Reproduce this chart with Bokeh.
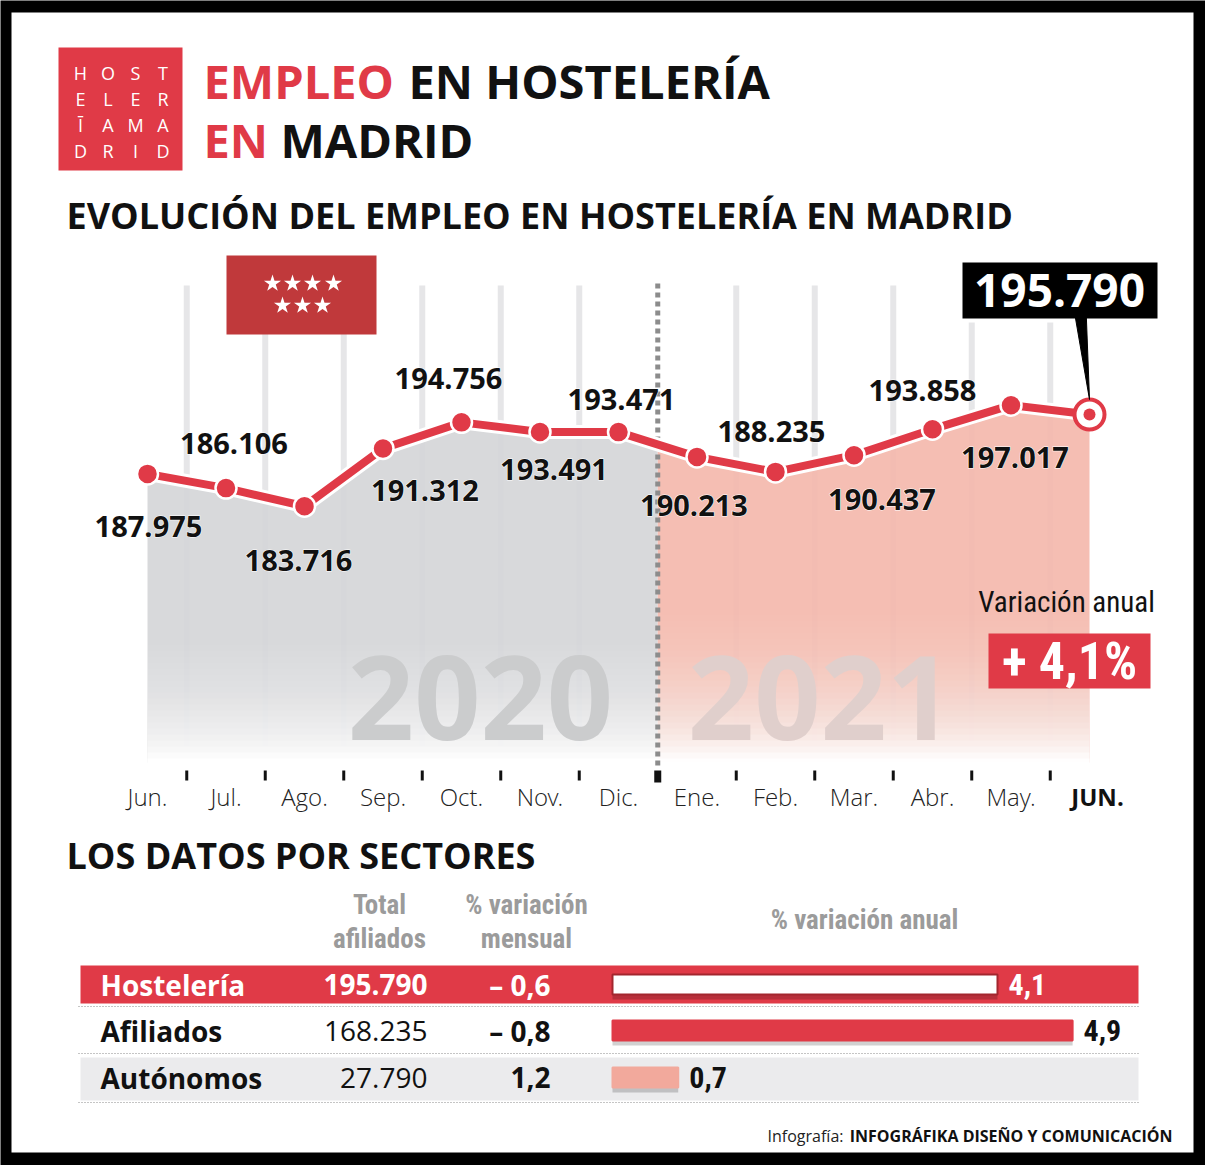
import numpy as np
from bokeh.plotting import figure
from bokeh.models import Range1d, ColumnDataSource
from bokeh.core.properties import value
from bokeh.embed import file_html
from bokeh.resources import INLINE

# ---------------- data ----------------
months = ["Jun.", "Jul.", "Ago.", "Sep.", "Oct.", "Nov.", "Dic.",
          "Ene.", "Feb.", "Mar.", "Abr.", "May.", "JUN."]
empleo = [187975, 186106, 183716, 191312, 194756, 193491, 193471,
          190213, 188235, 190437, 193858, 197017, 195790]
years = ["2020", "2021"]
year_split = 6.5          # boundary between Dic. and Ene.
variacion_anual_total = 4.1

sectores = ["Hostelería", "Afiliados", "Autónomos"]
total_afiliados = [195790, 168235, 27790]
var_mensual = [-0.6, -0.8, 1.2]
var_anual = [4.1, 4.9, 0.7]

def fmt_int(v):
    return f"{v:,}".replace(",", ".")

def fmt_dec(v):
    s = f"{abs(v):.1f}".replace(".", ",")
    return ("– " + s) if v < 0 else s

# ---------------- layout helpers ----------------
W, H = 1205, 1165

def xrange_for(px0, px1, v0, v1, total=W):
    s = (px1 - px0) / (v1 - v0)
    start = v0 - px0 / s
    return Range1d(start, start + total / s)

def yrange_for(py0, py1, v0, v1, total=H):
    s = (py0 - py1) / (v1 - v0)
    end = v0 + py0 / s
    return Range1d(end - total / s, end), (lambda py: end - py / s)

RED = "#e03a47"
PINK = "#f4b8ac"
GREY = "#d5d6d8"
OS = value("Open Sans")
LIGHT = value("'Open Sans Light', 'Open Sans'")
NARROW = value("'Roboto Condensed', Roboto")

p = figure(width=W, height=H, x_range=Range1d(0, W), y_range=Range1d(H, 0),
           output_backend="svg", toolbar_location=None, min_border=0,
           x_axis_type=None, y_axis_type=None,
           background_fill_color="black", border_fill_color="black")
p.grid.visible = False
p.outline_line_color = None

mx = xrange_for(147, 1089, 0, 12)
pct = xrange_for(612, 1081.5, 0, 5)
vy, py_to_val = yrange_for(534, 382, 180000, 200000)
p.extra_x_ranges = {"mx": mx, "pct": pct}
p.extra_y_ranges = {"vy": vy}

def t(x, y, s, size, color="#111111", style="bold", align="left", base="middle", font=OS, **kw):
    p.text(x=[x], y=[y], text=[s], text_color=color, text_font=font, text_font_size=size,
           text_font_style=style, text_align=align, text_baseline=base, **kw)

# white page inside black frame
p.quad(left=11, right=1193, top=12, bottom=1152, fill_color="white", line_color=None)

# ---------------- header ----------------
p.quad(left=58, right=182, top=47, bottom=170, fill_color=RED, line_color=None)
logo = ["HOST", "ELER", "ĪAMA", "DRID"]
lx, ly, lt = [], [], []
for r, row in enumerate(logo):
    for c, ch in enumerate(row):
        lx.append(80 + c * 27.5)
        ly.append(72 + r * 26)
        lt.append(ch)
p.text(x=lx, y=ly, text=lt, text_color="white", text_font=OS, text_font_size="18px",
       text_align="center", text_baseline="middle")

t(203, 80, "EMPLEO", "47px", RED)
t(408, 80, "EN HOSTELERÍA", "47px")
t(203, 139, "EN", "47px", RED)
t(280, 139, "MADRID", "47px")
t(66, 215, "EVOLUCIÓN DEL EMPLEO EN HOSTELERÍA EN MADRID", "36px")

# ---------------- line chart ----------------
idx = list(range(len(months)))
mids = [i + 0.5 for i in range(len(months) - 1) if i + 0.5 != year_split]

p.segment(x0=mids, x1=mids, y0=[285] * len(mids), y1=[762] * len(mids),
          x_range_name="mx", line_color="#e6e6e8", line_width=6)

split_val = float(np.interp(year_split, idx, empleo))
base_val = py_to_val(762)
gx = [i for i in idx if i < year_split] + [year_split]
gy = [v for i, v in zip(idx, empleo) if i < year_split] + [split_val]
rx = [year_split] + [i for i in idx if i > year_split]
ry = [split_val] + [v for i, v in zip(idx, empleo) if i > year_split]
p.varea(x=gx, y1=gy, y2=[base_val] * len(gx), x_range_name="mx", y_range_name="vy",
        fill_color=GREY, fill_alpha=0.92)
p.varea(x=rx, y1=ry, y2=[base_val] * len(rx), x_range_name="mx", y_range_name="vy",
        fill_color=PINK, fill_alpha=0.92)

# fade to white: overlapping layers, cumulative whiteness
f0, f1 = 590.0, 762.0
starts = [f0 + k * 6.0 for k in range(int((f1 - f0) / 6.0) + 1)]
target = [min(1.0, ((s - f0) / (f1 - f0 - 6)) ** 1.6) for s in starts]
fa, prev = [], 0.0
for w in target:
    w = max(w, prev)
    a = 1.0 if prev >= 1.0 else 1.0 - (1.0 - w) / (1.0 - prev)
    fa.append(float(min(1.0, max(0.0, a)) * 0.85))
    prev = w
p.quad(left=[0] * len(starts), right=[12] * len(starts), top=starts,
       bottom=[764.0] * len(starts), x_range_name="mx",
       fill_color="white", fill_alpha=fa, line_color=None)

# year watermarks
p.text(x=[480, 820], y=[697, 697], text=years, text_color=["#cbcccd", "#e0cfcc"],
       text_font=OS, text_font_style="bold", text_font_size="116px",
       text_align="center", text_baseline="middle")

# year separator & ticks
p.segment(x0=[year_split], x1=[year_split], y0=[283], y1=[768], x_range_name="mx",
          line_color="#8c8c8c", line_width=5, line_dash="5 4")
p.segment(x0=mids, x1=mids, y0=[770] * len(mids), y1=[780] * len(mids),
          x_range_name="mx", line_color="#111111", line_width=3)
p.segment(x0=[year_split], x1=[year_split], y0=[770], y1=[782], x_range_name="mx",
          line_color="#111111", line_width=7)

# month labels
p.text(x=idx[:-1], y=[796] * (len(idx) - 1), text=months[:-1], x_range_name="mx",
       text_color="#222222", text_font=LIGHT, text_font_size="24px",
       text_align="center", text_baseline="middle")
p.text(x=[idx[-1]], y=[796], text=[months[-1]], x_range_name="mx", x_offset=8,
       text_color="#111111", text_font=OS, text_font_style="bold", text_font_size="24px",
       text_align="center", text_baseline="middle")

# Madrid flag
p.quad(left=226, right=376, top=255, bottom=334, fill_color="#c0393b", line_color=None)
p.scatter(x=[272, 292, 312, 333, 282, 302, 322], y=[283, 283, 283, 283, 305, 305, 305],
          marker="star", size=18, fill_color="white", line_color=None)

# line
p.line(x=idx, y=empleo, x_range_name="mx", y_range_name="vy",
       line_color="white", line_width=14, line_join="round")
p.line(x=idx, y=empleo, x_range_name="mx", y_range_name="vy",
       line_color=RED, line_width=8, line_join="round")
p.scatter(x=idx[:-1], y=empleo[:-1], x_range_name="mx", y_range_name="vy",
          size=21, fill_color=RED, line_color="white", line_width=2.5)
p.scatter(x=[idx[-1]], y=[empleo[-1]], x_range_name="mx", y_range_name="vy",
          size=30, fill_color="white", line_color=RED, line_width=4)
p.scatter(x=[idx[-1]], y=[empleo[-1]], x_range_name="mx", y_range_name="vy",
          size=12, fill_color=RED, line_color=None)

# callout
p.quad(left=958, right=1161, top=258, bottom=322, fill_color="white", line_color=None)
p.quad(left=962, right=1157, top=262, bottom=318, fill_color="black", line_color=None)
p.patch(x=[11.82, 11.96, 12.0], y=[317, 317, 399], x_range_name="mx",
        fill_color="black", line_color="black", line_width=1)
t(1059, 290, fmt_int(empleo[-1]), "46px", "white", align="center")

p.quad(left=988, right=1150, top=633, bottom=688, fill_color=RED, line_color=None)

# ---------------- table ----------------
t(66, 855, "LOS DATOS POR SECTORES", "36px")

row_y = [984, 1030, 1077]
p.quad(left=80, right=1138, top=965, bottom=1003, fill_color=RED, line_color=None)
p.quad(left=80, right=1138, top=1057, bottom=1100, fill_color="#ebebed", line_color=None)
p.segment(x0=[78] * 3, x1=[1140] * 3, y0=[1006, 1053, 1102], y1=[1006, 1053, 1102],
          line_color="#8a8a8a", line_width=1, line_dash="1 2")

row_col = ["white", "#111111", "#111111"]
p.text(x=[100] * 3, y=row_y, text=sectores, text_color=row_col, text_font=OS,
       text_font_style="bold", text_font_size="28px", text_align="left", text_baseline="middle")
p.text(x=[427] * 3, y=row_y, text=[fmt_int(v) for v in total_afiliados], text_color=row_col,
       text_font=OS, text_font_style=["bold", "normal", "normal"], text_font_size="28px",
       text_align="right", text_baseline="middle")
p.text(x=[550] * 3, y=row_y, text=[fmt_dec(v) for v in var_mensual], text_color=row_col,
       text_font=OS, text_font_style="bold", text_font_size="28px",
       text_align="right", text_baseline="middle")

bt = [y - 10 for y in row_y]
bb = [y + 10 for y in row_y]
p.quad(left=[0] * 3, right=var_anual, top=[y + 4 for y in bt], bottom=[y + 5 for y in bb],
       x_range_name="pct", fill_color="black", fill_alpha=0.18, line_color=None)
p.quad(left=[0] * 3, right=var_anual, top=bt, bottom=bb, x_range_name="pct",
       fill_color=["white", RED, "#f2a99c"], line_color=["#a3262e", RED, "#f2a99c"],
       line_width=2)

# footer
t(1172, 1135, "INFOGRÁFIKA DISEÑO Y COMUNICACIÓN", "16px", "#111111", style="bold",
  align="right")
t(843, 1135, "Infografía:", "16px", "#222222", style="normal", align="right")

# data labels: white halo layer, then black text
lab_dx = [1, 8, -6, 42, -13, 14, 3, -3, -4, 28, -10, 4]
lab_dy = [53, -45, 54, 42, -44, 38, -33, 49, -40, 44, -39, 52]
src = ColumnDataSource(dict(x=idx[:-1], y=empleo[:-1], t=[fmt_int(v) for v in empleo[:-1]],
                            dx=lab_dx, dy=lab_dy))
p.text(x="x", y="y", text="t", x_offset="dx", y_offset="dy", source=src,
       x_range_name="mx", y_range_name="vy",
       text_color="white", text_font=OS, text_font_style="bold", text_font_size="29px",
       text_align="center", text_baseline="middle", text_outline_color="white")
p.text(x="x", y="y", text="t", x_offset="dx", y_offset="dy", source=src,
       x_range_name="mx", y_range_name="vy",
       text_color="#111111", text_font=OS, text_font_style="bold", text_font_size="29px",
       text_align="center", text_baseline="middle")

# condensed-style texts
t(1066, 601, "Variación anual", "29px", "#111111", style="normal", align="center", font=NARROW)
t(1069, 661, "+ " + fmt_dec(variacion_anual_total) + "%", "52px", "white",
  align="center", font=NARROW)
HG = "#9b9b9b"
t(379, 904, "Total", "27px", HG, align="center", font=NARROW)
t(379, 938, "afiliados", "27px", HG, align="center", font=NARROW)
t(526, 904, "% variación", "27px", HG, align="center", font=NARROW)
t(526, 938, "mensual", "27px", HG, align="center", font=NARROW)
t(864, 919, "% variación anual", "27px", HG, align="center", font=NARROW)
p.text(x=var_anual, y=row_y, text=[fmt_dec(v) for v in var_anual], x_range_name="pct",
       x_offset=11, text_color=row_col, text_font=NARROW, text_font_style="bold",
       text_font_size="30px", text_align="left", text_baseline="middle")

open("out.html", "w").write(file_html(p, INLINE))
